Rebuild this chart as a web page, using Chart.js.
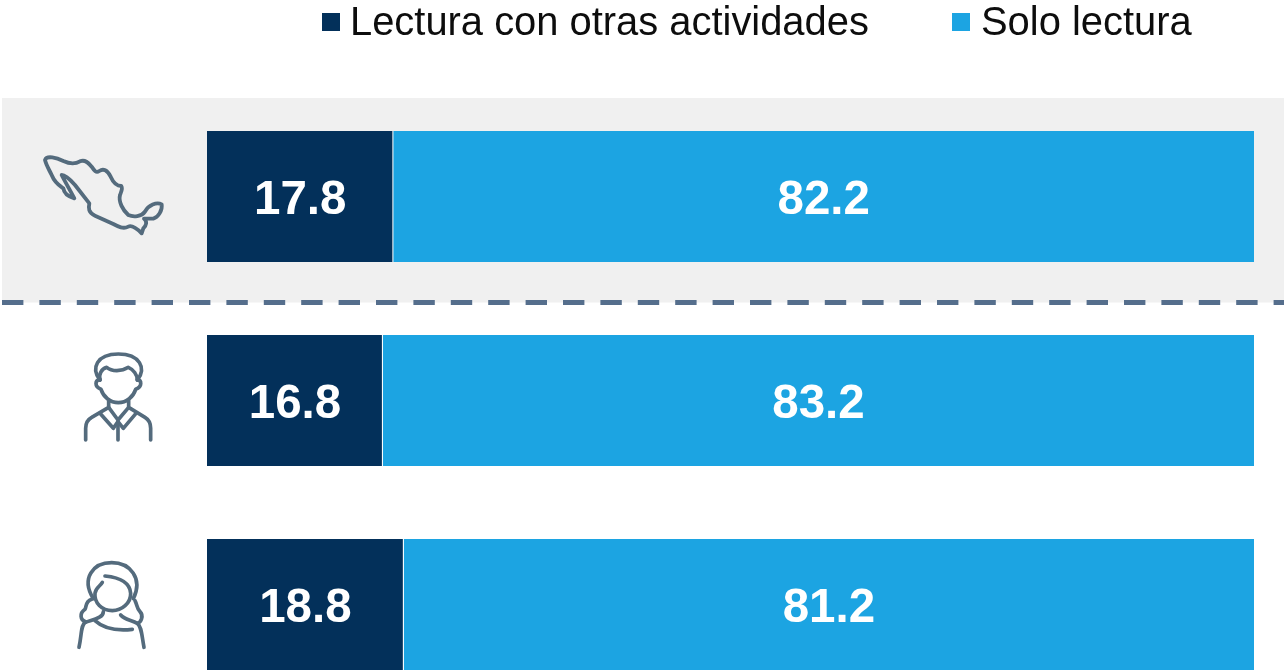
<!DOCTYPE html>
<html>
<head>
    <meta charset="utf-8">
    <title>Lectura con otras actividades</title>
    <script src="https://cdn.jsdelivr.net/npm/chart.js"></script>
    <style>
        html, body { margin: 0; padding: 0; background: #fff; overflow: hidden; }
        .wrap { position: relative; width: 1284px; height: 670px; overflow: hidden; font-family: "Liberation Sans", Arial, sans-serif; }
        canvas { position: absolute; left: 0; top: 0; }
        .icon { position: absolute; left: 0; top: 0; width: 1284px; height: 670px; }
        .icon path { fill: none; stroke: #546b7d; stroke-linecap: round; stroke-linejoin: round; }
        .legend-item { position: absolute; top: 0; font-size: 39.9px; line-height: 42px; color: #0d0d0d; white-space: nowrap; }
        .legend-box { position: absolute; top: 13px; width: 18px; height: 18px; }
    </style>
</head>
<body>
<div class="wrap" id="wrap">
    <canvas id="chart" width="1284" height="710"></canvas>
    <svg class="icon" viewBox="0 0 1284 670">
        <!-- mapa -->
        <g transform="translate(0 120) scale(0.3333)" stroke-width="11.5">
            <path d="M135 120 C140 105 170 113 190 123 C205 130 225 133 240 124 C255 118 265 128 275 140 C283 152 288 160 298 153 C310 145 322 150 332 170 C340 188 350 198 364 198 C369 205 365 212 360 225 C355 245 368 270 385 285 C400 292 425 290 435 275 C445 255 470 245 485 253 C488 270 475 292 460 296 L432 296 C442 305 440 315 430 325 L425 340 C410 325 395 315 385 320 C370 328 355 320 340 312 L285 287 C265 278 265 265 268 250 L225 195 C210 178 195 165 185 165 C195 185 210 210 223 235 C205 230 192 220 190 205 C180 198 165 190 155 165 C148 150 138 135 135 120 Z"/>
        </g>
        <!-- hombre -->
        <g transform="translate(50 330) scale(0.3333)" stroke-width="11">
            <path d="M150 150 C122 115 140 72 205 72 C270 72 290 115 262 150"/>
            <path d="M150 150 C145 135 155 115 170 112 C185 125 215 125 235 112 C250 118 262 135 262 150"/>
            <path d="M150 148 C135 150 132 170 153 178 C160 200 180 218 205 218 C230 218 250 200 257 178 C278 170 275 150 262 148"/>
            <path d="M176 212 L176 232 L125 262 Q107 272 107 295 L107 330"/>
            <path d="M236 212 L236 232 L285 262 Q302 272 302 295 L302 330"/>
            <path d="M150 250 L190 295 L204 275 L220 295 L258 250"/>
            <path d="M176 232 L204 270 L236 232"/>
            <path d="M204 275 L204 330"/>
        </g>
        <!-- mujer -->
        <g transform="translate(50 330) scale(0.3333)" stroke-width="11">
            <path d="M130 806 C92 745 130 698 185 698 C240 698 280 745 250 806"/>
            <path d="M165 738 C205 742 240 755 242 790 C243 820 215 842 187 842 C155 842 132 818 135 790 C137 772 150 770 157 757"/>
            <path d="M125 808 C105 815 110 830 105 838 C88 850 90 870 107 875 C92 885 96 910 87 952"/>
            <path d="M255 812 C262 825 260 835 270 845 C283 858 272 878 262 880 C275 890 275 915 282 952"/>
            <path d="M160 845 C160 865 125 870 107 877"/>
            <path d="M135 872 C165 900 210 902 247 898"/>
            <path d="M212 855 C225 870 245 870 262 880"/>
        </g>
    </svg>
</div>
<script>
    const categories = ['Nacional', 'Hombres', 'Mujeres'];
    const seriesNames = ['Lectura con otras actividades', 'Solo lectura'];
    const seriesColors = ['#03305a', '#1ca4e2'];
    const conOtras = [17.8, 16.8, 18.8];
    const soloLectura = [82.2, 83.2, 81.2];

    // leyenda en HTML, el hueco entre cuadro y texto no se puede ajustar en la de Chart.js
    const legendX = [322, 952];
    const legendTextX = [350, 981];
    seriesNames.forEach((name, i) => {
        const box = document.createElement('div');
        box.className = 'legend-box';
        box.style.left = legendX[i] + 'px';
        box.style.background = seriesColors[i];
        const text = document.createElement('div');
        text.className = 'legend-item';
        text.style.left = legendTextX[i] + 'px';
        text.textContent = name;
        document.getElementById('wrap').append(box, text);
    });

    // franja gris y linea punteada detras de las barras
    const backdrop = {
        id: 'backdrop',
        beforeDraw(chart) {
            const ctx = chart.ctx;
            ctx.save();
            ctx.fillStyle = '#f0f0f0';
            ctx.fillRect(2, 98, 1282, 204.5);
            ctx.strokeStyle = '#556e8c';
            ctx.lineWidth = 5;
            ctx.setLineDash([21.4, 16]);
            ctx.beginPath();
            ctx.moveTo(2, 302.5);
            ctx.lineTo(1284, 302.5);
            ctx.stroke();
            ctx.restore();
        }
    };

    // valores en blanco centrados en cada barra
    const barLabels = {
        id: 'barLabels',
        afterDatasetsDraw(chart) {
            const ctx = chart.ctx;
            ctx.save();
            ctx.fillStyle = '#fff';
            ctx.font = 'bold 47.5px "Liberation Sans", Arial, sans-serif';
            ctx.textAlign = 'center';
            ctx.textBaseline = 'middle';
            chart.data.datasets.forEach((ds, i) => {
                chart.getDatasetMeta(i).data.forEach((bar, j) => {
                    const c = bar.getCenterPoint();
                    ctx.fillText(ds.data[j].toFixed(1), c.x, c.y + 4.5);
                });
            });
            ctx.restore();
        }
    };

    new Chart(document.getElementById('chart').getContext('2d'), {
        type: 'bar',
        data: {
            labels: categories,
            datasets: [
                {
                    label: seriesNames[0],
                    data: conOtras,
                    backgroundColor: seriesColors[0],
                    borderColor: '#fff',
                    borderWidth: { right: 1, left: 0, top: 0, bottom: 0 }
                },
                { label: seriesNames[1], data: soloLectura, backgroundColor: seriesColors[1] }
            ]
        },
        options: {
            indexAxis: 'y',
            responsive: false,
            animation: false,
            categoryPercentage: 1,
            barPercentage: 131 / 204,
            layout: { padding: { left: 207, right: 30, top: 94.5, bottom: 3.5 } },
            scales: {
                x: { stacked: true, min: 0, max: 100, display: false },
                y: { stacked: true, display: false }
            },
            plugins: {
                legend: { display: false },
                tooltip: { enabled: false }
            }
        },
        plugins: [backdrop, barLabels]
    });
</script>
</body>
</html>
